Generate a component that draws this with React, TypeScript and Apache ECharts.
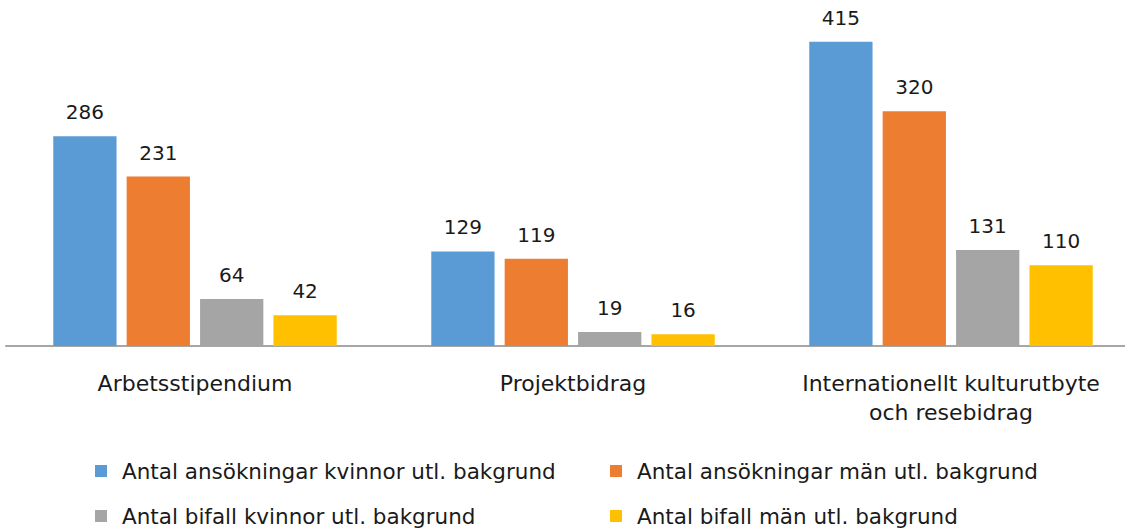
import React, { useEffect, useRef } from "react";
import * as echarts from "echarts";

const categories = ["Arbetsstipendium", "Projektbidrag", "Internationellt kulturutbyte\noch resebidrag"];
const seriesNames = [
  "Antal ansökningar kvinnor utl. bakgrund",
  "Antal ansökningar män utl. bakgrund",
  "Antal bifall kvinnor utl. bakgrund",
  "Antal bifall män utl. bakgrund",
];
const ansokKvinnor = [286, 129, 415];
const ansokMan = [231, 119, 320];
const bifallKvinnor = [64, 19, 131];
const bifallMan = [42, 16, 110];
const colors = ["#5B9BD5", "#ED7D31", "#A5A5A5", "#FFC000"];

const FONT = "'DejaVu Sans', sans-serif";

export default function App() {
  const ref = useRef<HTMLDivElement>(null);
  useEffect(() => {
    if (!ref.current) return;
    const chart = echarts.init(ref.current, undefined, { renderer: "svg" });
    const values = [ansokKvinnor, ansokMan, bifallKvinnor, bifallMan];
    const legendPos = [
      { left: 90, top: 455 },
      { left: 605, top: 455 },
      { left: 90, top: 500 },
      { left: 605, top: 500 },
    ];
    chart.setOption({
      animation: false,
      color: colors,
      grid: {
        left: 6,
        top: 16,
        width: 1134,
        height: 330,
        containLabel: false,
        outerBoundsMode: "none",
      },
      xAxis: {
        type: "category",
        data: categories,
        axisLine: { lineStyle: { color: "#A6A6A6", width: 2 } },
        axisTick: { show: false },
        axisLabel: {
          color: "#1a1a1a",
          fontFamily: FONT,
          fontSize: 22,
          margin: 23,
          lineHeight: 29,
          interval: 0,
        },
      },
      yAxis: {
        type: "value",
        min: 0,
        max: 450,
        show: false,
        splitLine: { show: false },
      },
      legend: legendPos.map((p, i) => ({
        data: [seriesNames[i]],
        left: p.left,
        top: p.top,
        itemWidth: 12,
        itemHeight: 12,
        icon: "rect",
        itemGap: 0,
        textStyle: { fontFamily: FONT, fontSize: 21.5, color: "#1a1a1a", padding: [0, 0, 0, 10] },
      })),
      series: values.map((v, i) => ({
        name: seriesNames[i],
        type: "bar",
        data: v,
        barGap: "16%",
        barCategoryGap: "25%",
        label: {
          show: true,
          position: "top",
          distance: 14,
          fontFamily: FONT,
          fontSize: 20,
          color: "#1a1a1a",
        },
      })),
    });
    return () => chart.dispose();
  }, []);
  return <div ref={ref} style={{ position: "absolute", left: 0, top: 0, width: 1125, height: 528 }} />;
}
